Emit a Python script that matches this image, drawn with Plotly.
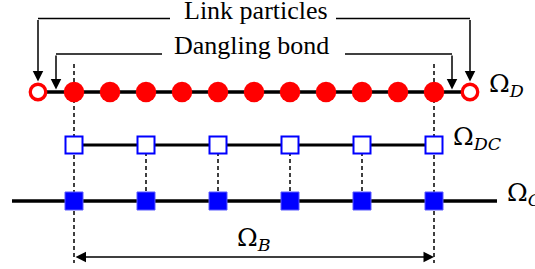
import plotly.graph_objects as go

# ---- data (particle indices along the chain) ----
dangling_x = [0, 1, 2, 3, 4, 5, 6, 7, 8, 9, 10]   # red filled particles (Omega_D)
link_x = [-1, 11]                                  # link particles (hollow red)
dc_x = [0, 2, 4, 6, 8, 10]                         # hollow blue squares (Omega_DC)
c_x = [0, 2, 4, 6, 8, 10]                          # filled blue squares (Omega_C)
bond_x = [-0.5, 10.5]                              # dangling-bond arrow positions
labels = {"D": "Ω<sub><i>D</i></sub>", "DC": "Ω<sub><i>DC</i></sub>",
          "C": "Ω<sub><i>C</i></sub>", "B": "Ω<sub><i>B</i></sub>"}

# ---- layout constants (pixel-like y, reversed axis) ----
W, H = 535, 269
X0, DX = 74, 36           # pixel of index 0, pixels per index
yD, yDC, yC = 92, 145, 201
yLink, yDang, yB = 18.5, 54, 257
FONT = "Liberation Serif"
OFONT = "DejaVu Serif"

def px2x(p):
    return (p - X0) / DX

fig = go.Figure()

shapes = []
# chain lines
shapes.append(dict(type="line", x0=link_x[0], x1=link_x[1], y0=yD, y1=yD,
                   line=dict(color="black", width=3.5), layer="below"))
shapes.append(dict(type="line", x0=dc_x[0], x1=dc_x[-1], y0=yDC, y1=yDC,
                   line=dict(color="black", width=3.2), layer="below"))
shapes.append(dict(type="line", x0=px2x(12), x1=px2x(497), y0=yC, y1=yC,
                   line=dict(color="black", width=3.5), layer="below"))
# dashed boundary verticals
for xv in (dangling_x[0], dangling_x[-1]):
    shapes.append(dict(type="line", x0=xv, x1=xv, y0=64, y1=263,
                       line=dict(color="black", width=1.5, dash="4px,3px"), layer="below"))
# dotted links DC -> C
for xv in dc_x[1:-1]:
    shapes.append(dict(type="line", x0=xv, x1=xv, y0=yDC, y1=yC,
                       line=dict(color="black", width=1.5, dash="4px,3px"), layer="below"))
# horizontal connectors of callouts
shapes.append(dict(type="line", x0=link_x[0], x1=px2x(170), y0=yLink, y1=yLink,
                   line=dict(color="black", width=1.5)))
shapes.append(dict(type="line", x0=px2x(336), x1=link_x[1], y0=yLink, y1=yLink,
                   line=dict(color="black", width=1.5)))
shapes.append(dict(type="line", x0=bond_x[0], x1=px2x(162), y0=yDang, y1=yDang,
                   line=dict(color="black", width=1.5)))
shapes.append(dict(type="line", x0=px2x(345), x1=bond_x[1], y0=yDang, y1=yDang,
                   line=dict(color="black", width=1.5)))

# markers
fig.add_trace(go.Scatter(x=dangling_x, y=[yD] * len(dangling_x), mode="markers",
                         marker=dict(symbol="circle", size=20.5, color="#ff0000",
                                     line=dict(width=0)), hoverinfo="skip"))
fig.add_trace(go.Scatter(x=link_x, y=[yD] * len(link_x), mode="markers",
                         marker=dict(symbol="circle", size=15.5, color="white",
                                     line=dict(width=3.3, color="#ff0000")), hoverinfo="skip"))
fig.add_trace(go.Scatter(x=dc_x, y=[yDC] * len(dc_x), mode="markers",
                         marker=dict(symbol="square", size=17, color="white",
                                     line=dict(width=2, color="#0000ff")), hoverinfo="skip"))
fig.add_trace(go.Scatter(x=c_x, y=[yC] * len(c_x), mode="markers",
                         marker=dict(symbol="square", size=18, color="#0000ff",
                                     line=dict(width=1, color="#5a5aff")), hoverinfo="skip"))

ann = []
def arrow(xt, yt, xa, ya, side="end"):
    ann.append(dict(x=xt, y=yt, ax=xa, ay=ya, xref="x", yref="y", axref="x", ayref="y",
                    text="", showarrow=True, arrowhead=2, arrowsize=1.4, arrowwidth=1.5,
                    arrowcolor="black", arrowside=side, standoff=0, startstandoff=0))

for xv in link_x:
    arrow(xv, 81.5, xv, yLink)
for xv in bond_x:
    arrow(xv, 89.5, xv, yDang)
arrow(dangling_x[-1], yB, dangling_x[0], yB, side="end+start")

def text(t, x, y, xanchor="center", size=26, family=FONT):
    ann.append(dict(x=x, y=y, xref="x", yref="y", text=t, showarrow=False,
                    xanchor=xanchor, yanchor="middle",
                    font=dict(family=family, size=size, color="black")))

text("Link particles", px2x(256), 10)
text("Dangling bond", px2x(251), 45)
text(labels["D"], px2x(487), 84.5, "left", 25, OFONT)
text(labels["DC"], px2x(451), 138, "left", 25, OFONT)
text(labels["C"], px2x(505), 194, "left", 25, OFONT)
text(labels["B"], px2x(235), 238.5, "left", 25, OFONT)

fig.update_layout(
    width=W, height=H, margin=dict(l=0, r=0, t=0, b=0),
    paper_bgcolor="white", plot_bgcolor="white", showlegend=False,
    xaxis=dict(range=[px2x(0), px2x(W)], visible=False, fixedrange=True),
    yaxis=dict(range=[H, 0], visible=False, fixedrange=True),
    shapes=shapes, annotations=ann,
)
fig.write_html("out.html", config={"staticPlot": True},
               post_script="document.body.style.margin='0px';")
